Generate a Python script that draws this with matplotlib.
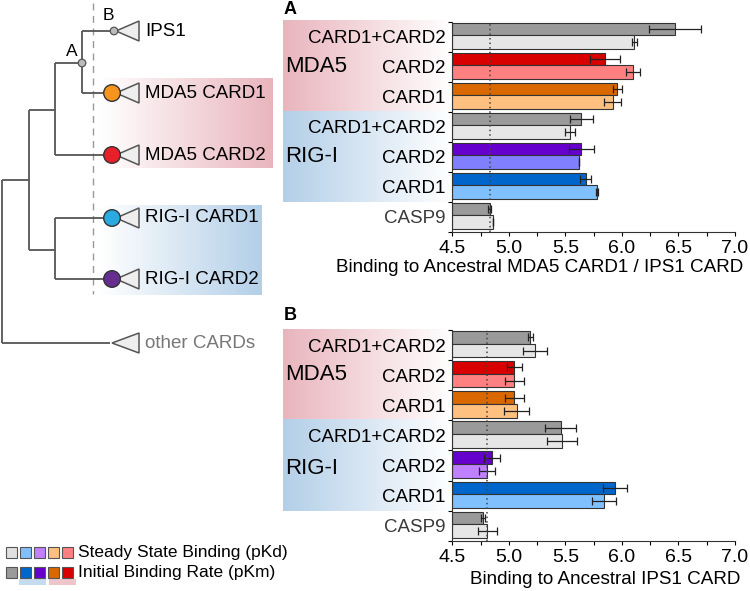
import matplotlib
matplotlib.use('Agg')
import matplotlib.pyplot as plt
import numpy as np
from matplotlib.patches import Rectangle, Polygon, Circle
from matplotlib.colors import to_rgb
from matplotlib.ticker import MultipleLocator, FixedLocator

plt.rcParams['font.family'] = ['Liberation Sans', 'DejaVu Sans']

# ---------------- data ----------------
categories = ['CARD1+CARD2', 'CARD2', 'CARD1', 'CARD1+CARD2', 'CARD2', 'CARD1', 'CASP9']
groups = ['MDA5', 'RIG-I']
tick_values = [4.5, 5.0, 5.5, 6.0, 6.5, 7.0]
tick_labels = ['4.5', '5.0', '5.5', '6.0', '6.5', '7.0']

a_pkm = [6.47, 5.85, 5.96, 5.64, 5.64, 5.68, 4.83]
a_pkm_err = [0.23, 0.135, 0.04, 0.10, 0.11, 0.05, 0.01]
a_pkd = [6.11, 6.10, 5.92, 5.54, 5.62, 5.78, 4.86]
a_pkd_err = [0.025, 0.06, 0.075, 0.045, 0.0, 0.01, 0.0]
a_ref = 4.83

b_pkm = [5.19, 5.05, 5.05, 5.46, 4.85, 5.94, 4.77]
b_pkm_err = [0.02, 0.066, 0.08, 0.137, 0.07, 0.106, 0.015]
b_pkd = [5.23, 5.05, 5.07, 5.47, 4.81, 5.84, 4.81]
b_pkd_err = [0.106, 0.08, 0.11, 0.135, 0.072, 0.106, 0.083]
b_ref = 4.81

dark_colors = ['#9a9a9a', '#d90000', '#d96800', '#9a9a9a', '#6600cc', '#0066cc', '#9a9a9a']
light_colors_a = ['#e6e6e6', '#ff8080', '#ffc080', '#e6e6e6', '#8080ff', '#80c0ff', '#e6e6e6']
light_colors_b = ['#e6e6e6', '#ff8080', '#ffc080', '#e6e6e6', '#c080ff', '#80c0ff', '#e6e6e6']

legend_light = ['#e0e0e0', '#80c0ff', '#c080ff', '#ffc080', '#ff8080']
legend_dark = ['#9a9a9a', '#0066cc', '#6600cc', '#d96800', '#d90000']
legend_labels = ['Steady State Binding (pKd)', 'Initial Binding Rate (pKm)']

tree_leaves = ['IPS1', 'MDA5 CARD1', 'MDA5 CARD2', 'RIG-I CARD1', 'RIG-I CARD2', 'other CARDs']

PINK = '#e9b5bd'
BLUE = '#b3cfe8'

W, H = 750, 591
fig = plt.figure(figsize=(W / 100, H / 100), dpi=100)

# overlay axis in pixel coordinates
ov = fig.add_axes([0, 0, 1, 1], zorder=0)
ov.axis('off')


def grad(x0, x1, y0, y1, color, color_left=True):
    rgb = np.array(to_rgb(color))
    a = np.linspace(1, 0, 256) if color_left else np.linspace(0, 1, 256)
    img = a[:, None] * rgb[None, :] + (1 - a[:, None]) * np.ones(3)[None, :]
    ov.imshow(img[None, :, :], extent=[x0, x1, y1, y0], aspect='auto',
              zorder=0, interpolation='bilinear')


# ---------------- bar panels ----------------
def panel(rect, pkm, pkm_err, pkd, pkd_err, light_colors, ref, xlabel, xlab_x, xlab_y,
          letter, letter_y, grp_rects):
    ax = fig.add_axes(rect, zorder=2)
    ax.set_facecolor('none')
    y = np.arange(len(categories))
    base = tick_values[0]
    ax.barh(y - 0.256, np.array(pkm) - base, left=base, height=0.42,
            color=dark_colors, edgecolor='#333333', linewidth=0.8, zorder=2)
    ax.barh(y + 0.182, np.array(pkd) - base, left=base, height=0.455,
            color=light_colors, edgecolor='#333333', linewidth=0.8, zorder=2)
    ax.errorbar(pkm, y - 0.256, xerr=pkm_err, fmt='none', ecolor='#222222',
                elinewidth=0.9, capsize=3, capthick=0.9, zorder=3)
    ax.errorbar(pkd, y + 0.182, xerr=pkd_err, fmt='none', ecolor='#222222',
                elinewidth=0.9, capsize=3, capthick=0.9, zorder=3)
    ax.axvline(ref, ls=(0, (1, 2)), color='#444444', lw=1.1, zorder=4)
    ax.set_xlim(tick_values[0], tick_values[-1])
    ax.set_ylim(len(categories) - 0.5, -0.5)
    ax.set_xticks(tick_values)
    ax.set_xticklabels(tick_labels, fontsize=14)
    ax.xaxis.set_minor_locator(MultipleLocator(0.25))
    ax.set_yticks(y)
    ax.set_yticklabels(categories, fontsize=13.5)
    for lab in ax.get_yticklabels():
        if lab.get_text() == 'CASP9':
            lab.set_color('#3a3a3a')
    ax.yaxis.set_minor_locator(FixedLocator(np.arange(-0.5, len(categories), 1.0)))
    ax.tick_params(axis='y', which='major', length=0, pad=5)
    ax.tick_params(axis='y', which='minor', length=3, width=0.8, direction='out')
    ax.tick_params(axis='x', which='both', length=3, width=0.8, direction='out', pad=3)
    for s in ['top', 'right']:
        ax.spines[s].set_visible(False)
    for s in ['left', 'bottom']:
        ax.spines[s].set_linewidth(0.8)
        ax.spines[s].set_color('#333333')
    ov.text(xlab_x, xlab_y, xlabel, fontsize=13.6, ha='center', va='center')
    ov.text(284, letter_y, letter, fontsize=13, fontweight='bold', ha='left', va='center')
    # group background gradients and labels
    for (g, y0, y1, col, ty) in grp_rects:
        grad(283, 452, y0, y1, col, color_left=True)
        ov.text(285, ty, g, fontsize=16, ha='left', va='center')
    return ax


def fr(px_top, px_bot):
    return [452.3 / W, 1 - px_bot / H, (735 - 452.3) / W, (px_bot - px_top) / H]


panel(fr(21.7, 231.7), a_pkm, a_pkm_err, a_pkd, a_pkd_err, light_colors_a, a_ref,
      'Binding to Ancestral MDA5 CARD1 / IPS1 CARD', 540, 268, 'A', 10,
      [(groups[0], 20.7, 111, PINK, 66.5), (groups[1], 111, 202, BLUE, 157)])
panel(fr(330, 540.7), b_pkm, b_pkm_err, b_pkd, b_pkd_err, light_colors_b, b_ref,
      'Binding to Ancestral IPS1 CARD', 605, 580, 'B', 316,
      [(groups[0], 329, 420, PINK, 375), (groups[1], 420, 511.5, BLUE, 468)])

# ---------------- tree ----------------
LC = '#555555'
LW = 1.3
segs = [
    ((2, 180), (2, 343)), ((2, 180), (29, 180)), ((2, 343), (110, 343)),
    ((29, 110), (29, 250)), ((29, 110), (55, 110)), ((29, 250), (55, 250)),
    ((55, 63), (55, 155)), ((55, 63), (82, 63)), ((55, 155), (112, 155)),
    ((82, 31), (82, 93)), ((82, 31), (114, 31)), ((82, 93), (112, 93)),
    ((55, 218), (55, 279)), ((55, 218), (112, 218)), ((55, 279), (112, 279)),
]
# tree gradient boxes (white -> colour)
grad(100, 273, 78, 168, PINK, color_left=False)
grad(100, 262, 205, 295, BLUE, color_left=False)

for (p, q) in segs:
    ov.plot([p[0], q[0]], [p[1], q[1]], color=LC, lw=LW, solid_capstyle='butt', zorder=3)
ov.plot([93, 93], [3, 294], color='#999999', lw=1.0, ls=(0, (5, 4)), zorder=2)

leaf_y = [31, 93, 155, 218, 279, 343]
leaf_apex = [116, 116, 116, 116, 116, 112]
circle_col = [None, '#f7941d', '#e8202a', '#29abe2', '#662d91', None]
for i, (lab, yy) in enumerate(zip(tree_leaves, leaf_y)):
    ax_ = leaf_apex[i]
    tri = Polygon([[ax_, yy], [139, yy - 10], [139, yy + 10]], closed=True,
                  facecolor='#eeeeee', edgecolor=LC, lw=1.1, zorder=4)
    ov.add_patch(tri)
    if circle_col[i] is not None:
        ov.add_patch(Circle((112, yy), 8.3, facecolor=circle_col[i], edgecolor='#333333',
                            lw=1.0, zorder=5))
    ov.text(145, yy, lab, fontsize=13.5, ha='left', va='center',
            color='#777777' if lab == 'other CARDs' else 'black', zorder=6)
# ancestral nodes
ov.add_patch(Circle((114, 31), 3.8, facecolor='#bbbbbb', edgecolor=LC, lw=0.9, zorder=5))
ov.add_patch(Circle((82, 63), 3.8, facecolor='#bbbbbb', edgecolor=LC, lw=0.9, zorder=5))
ov.text(72, 52, 'A', fontsize=12.5, ha='center', va='center')
ov.text(108, 16, 'B', fontsize=12.5, ha='center', va='center')

# ---------------- legend ----------------
sq_x = [6, 20, 34, 48, 62]
for i in range(5):
    ov.add_patch(Rectangle((sq_x[i], 547), 11, 11, facecolor=legend_light[i],
                           edgecolor='#555555', lw=0.8, zorder=3))
    ov.add_patch(Rectangle((sq_x[i], 567), 11, 11, facecolor=legend_dark[i],
                           edgecolor='#555555', lw=0.8, zorder=3))
ov.add_patch(Rectangle((18.5, 578.5), 27, 6, facecolor='#c5dbee', edgecolor='none', zorder=2))
ov.add_patch(Rectangle((48.5, 578.5), 27, 6, facecolor='#eec5cb', edgecolor='none', zorder=2))
ov.text(78, 552.5, legend_labels[0], fontsize=12.5, ha='left', va='center')
ov.text(78, 572.5, legend_labels[1], fontsize=12.5, ha='left', va='center')

ov.set_xlim(0, W)
ov.set_ylim(H, 0)

fig.savefig('out.png', dpi=100)
